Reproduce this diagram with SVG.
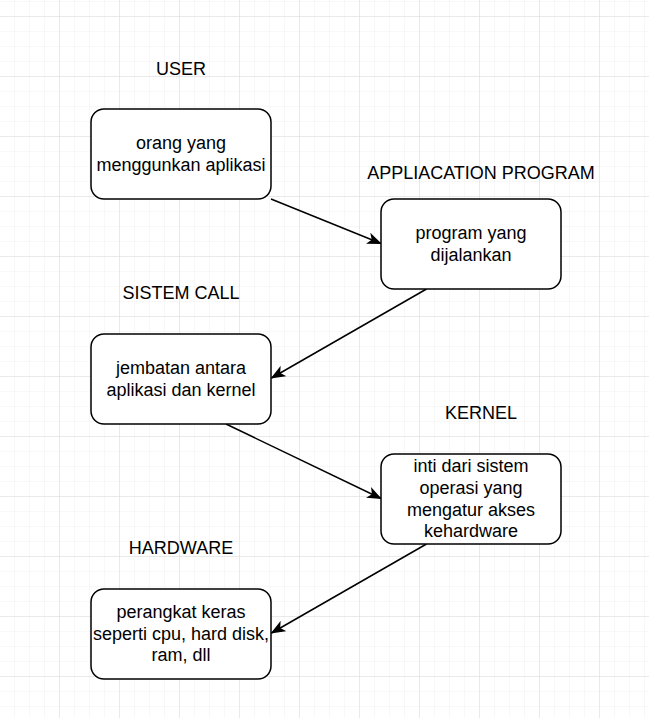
<svg xmlns="http://www.w3.org/2000/svg" width="649" height="718" viewBox="0 0 649 718">
<defs>
<pattern id="minor" width="15" height="15" patternUnits="userSpaceOnUse" x="0" y="2">
<path d="M15 0V15M0 15H15" fill="none" stroke="#f0f0f0" stroke-width="1"/>
</pattern>
<pattern id="major" width="60" height="60" patternUnits="userSpaceOnUse" x="0" y="17">
<path d="M60 0V60M0 60H60" fill="none" stroke="#dadada" stroke-width="1"/>
</pattern>
<marker id="arr" markerWidth="16" markerHeight="12" refX="14" refY="6" orient="auto" markerUnits="userSpaceOnUse">
<path d="M0 0L15 6L0 12L4 6Z" fill="#000"/>
</marker>
<style>
.box{fill:#fff;stroke:#000;stroke-width:1.5}
.t{font-family:"Liberation Sans",Arial,sans-serif;font-size:18px;text-anchor:middle;fill:#000}
.c{stroke:#000;stroke-width:1.5;fill:none;marker-end:url(#arr)}
</style>
</defs>
<rect width="649" height="718" fill="#fff"/>
<rect x="-0.5" y="-0.5" width="650" height="719" fill="url(#minor)"/>
<rect x="-0.5" y="-0.5" width="650" height="719" fill="url(#major)"/>
<g id="connectors">
<line class="c" x1="271" y1="199" x2="381" y2="243.5"/>
<line class="c" x1="426.5" y1="289" x2="271.5" y2="378"/>
<line class="c" x1="226" y1="424" x2="381" y2="498.5"/>
<line class="c" x1="426.5" y1="544" x2="271.5" y2="633"/>
</g>
<g id="label-user"><text class="t" x="181" y="74.5">USER</text></g>
<g id="label-app"><text class="t" x="481" y="178.5">APPLIACATION PROGRAM</text></g>
<g id="label-syscall"><text class="t" x="181" y="298.5">SISTEM CALL</text></g>
<g id="label-kernel"><text class="t" x="481" y="418.5">KERNEL</text></g>
<g id="label-hardware"><text class="t" x="181" y="553.5">HARDWARE</text></g>
<g id="user">
<rect class="box" x="91" y="109" width="180" height="90" rx="13"/>
<text class="t" x="181" y="149">orang yang</text>
<text class="t" x="181" y="170.6">menggunkan aplikasi</text>
</g>
<g id="app">
<rect class="box" x="381" y="199" width="180" height="90" rx="13"/>
<text class="t" x="471" y="239">program yang</text>
<text class="t" x="471" y="260.6">dijalankan</text>
</g>
<g id="syscall">
<rect class="box" x="91" y="334" width="180" height="90" rx="13"/>
<text class="t" x="181" y="374">jembatan antara</text>
<text class="t" x="181" y="395.6">aplikasi dan kernel</text>
</g>
<g id="kernel">
<rect class="box" x="381" y="454" width="180" height="90" rx="13"/>
<text class="t" x="471" y="472.4">inti dari sistem</text>
<text class="t" x="471" y="494">operasi yang</text>
<text class="t" x="471" y="515.6">mengatur akses</text>
<text class="t" x="471" y="537.2">kehardware</text>
</g>
<g id="hardware">
<rect class="box" x="91" y="589" width="180" height="90" rx="13"/>
<text class="t" x="181" y="618.2">perangkat keras</text>
<text class="t" x="181" y="639.8">seperti cpu, hard disk,</text>
<text class="t" x="181" y="661.4">ram, dll</text>
</g>
</svg>
